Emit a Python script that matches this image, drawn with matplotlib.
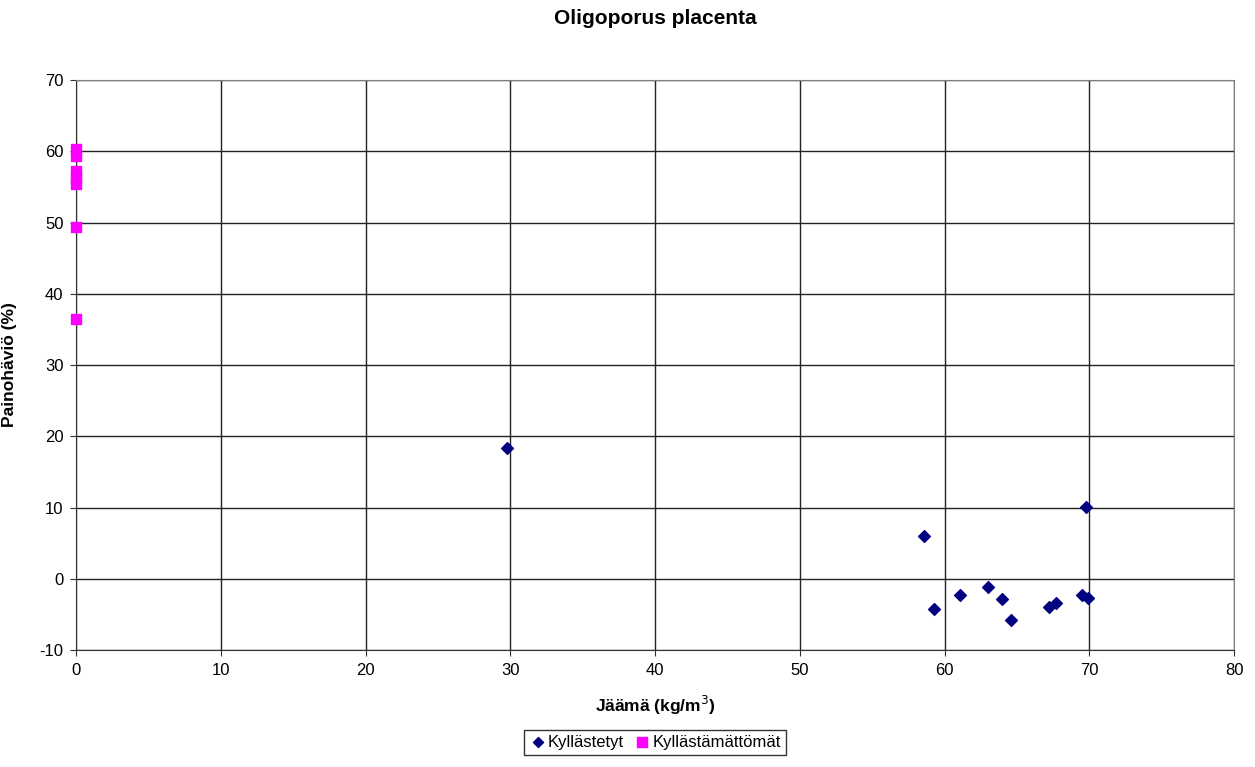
import matplotlib
matplotlib.use("Agg")
from matplotlib import pyplot as plt

plt.rcParams['font.family'] = ['Liberation Sans', 'DejaVu Sans']
plt.rcParams['axes.unicode_minus'] = False

# Kyllästetyt (treated)
treated_x = [29.8, 58.6, 59.3, 61.1, 63.0, 64.0, 64.6, 67.2, 67.7, 69.5, 69.9, 69.8]
treated_y = [18.4, 5.95, -4.3, -2.3, -1.1, -2.8, -5.8, -3.9, -3.35, -2.25, -2.65, 10.05]

# Kyllästämättömät (untreated)
untreated_x = [0, 0, 0, 0, 0, 0, 0]
untreated_y = [60.3, 59.3, 57.2, 56.2, 55.4, 49.4, 36.5]

fig = plt.figure(figsize=(12.55, 7.67), dpi=100)
ax = fig.add_axes([0.0606, 0.1525, 0.9227, 0.7432])

ax.scatter(treated_x, treated_y, marker='D', s=36, color='#000080', label='Kyllästetyt', zorder=3, clip_on=False)
ax.scatter(untreated_x, untreated_y, marker='s', s=60, color='#FF00FF', label='Kyllästämättömät', zorder=3, clip_on=False)

ax.set_xlim(0, 80)
ax.set_ylim(-10, 70)
ax.set_xticks(range(0, 81, 10))
ax.set_yticks(range(-10, 71, 10))
ax.grid(True, color='#222222', linewidth=1.0)
ax.set_axisbelow(True)
for side in ['top', 'right']:
    ax.spines[side].set_color('#808080')
for side in ['left', 'bottom']:
    ax.spines[side].set_color('#333333')
ax.tick_params(labelsize=12, length=4, color='#333333', pad=5)

ax.set_title('Oligoporus placenta', fontsize=15, fontweight='bold', pad=40)
ax.set_xlabel('Jäämä (kg/m$^3$)', fontsize=12.5, fontweight='bold', labelpad=12)
ax.set_ylabel('Painohäviö (%)', fontsize=12.5, fontweight='bold')
ax.yaxis.set_label_coords(-0.051, 0.5)

leg = ax.legend(loc='upper center', bbox_to_anchor=(0.5, -0.125), ncol=2, fontsize=12,
                frameon=True, fancybox=False, edgecolor='black', handletextpad=0.1,
                columnspacing=0.6, borderpad=0.3, handlelength=1.0, markerscale=0.85)
leg.get_frame().set_linewidth(1.0)

fig.savefig('out.png', dpi=100)
